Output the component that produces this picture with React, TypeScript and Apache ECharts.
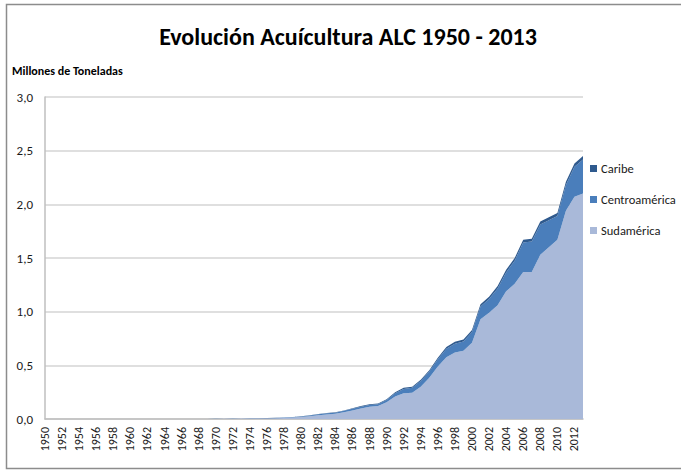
import React, { useEffect, useRef } from "react";
import * as echarts from "echarts";

const years: string[] = [];
for (let y = 1950; y <= 2013; y++) years.push(String(y));

const zeros20 = [0, 0, 0, 0, 0, 0, 0, 0, 0, 0, 0, 0, 0, 0, 0, 0, 0, 0, 0, 0];

// 1970 - 2013
const sudamerica = [...zeros20,
  0.001, 0.002, 0.003, 0.004, 0.004, 0.005, 0.006, 0.008, 0.010, 0.014,
  0.019, 0.026, 0.036, 0.043, 0.048, 0.063, 0.080, 0.098, 0.115, 0.120,
  0.155, 0.210, 0.240, 0.245, 0.300, 0.385, 0.490, 0.575, 0.620, 0.635,
  0.710, 0.930, 0.990, 1.060, 1.190, 1.260, 1.370, 1.370, 1.530, 1.600,
  1.670, 1.940, 2.070, 2.100];

const centroamerica = [...zeros20,
  0.001, 0.001, 0.001, 0.001, 0.002, 0.001, 0.002, 0.002, 0.003, 0.004,
  0.005, 0.007, 0.008, 0.010, 0.010, 0.013, 0.015, 0.016, 0.015, 0.018,
  0.022, 0.031, 0.040, 0.045, 0.054, 0.058, 0.066, 0.079, 0.082, 0.086,
  0.100, 0.119, 0.128, 0.157, 0.176, 0.215, 0.274, 0.283, 0.282, 0.252,
  0.221, 0.240, 0.279, 0.318];

const caribe = [...zeros20,
  0.000, 0.000, 0.000, 0.000, 0.000, 0.001, 0.001, 0.001, 0.001, 0.001,
  0.002, 0.002, 0.003, 0.003, 0.004, 0.004, 0.005, 0.006, 0.007, 0.007,
  0.008, 0.009, 0.010, 0.010, 0.011, 0.012, 0.014, 0.016, 0.018, 0.019,
  0.020, 0.021, 0.022, 0.023, 0.024, 0.025, 0.026, 0.027, 0.028, 0.028,
  0.029, 0.030, 0.031, 0.032];

const yTicks = ["0,0", "0,5", "1,0", "1,5", "2,0", "2,5", "3,0"];

const FONT = "Carlito, 'Liberation Sans Narrow', 'DejaVu Sans Condensed', 'Noto Sans', sans-serif";

export default function App() {
  const ref = useRef<HTMLDivElement>(null);
  useEffect(() => {
    document.body.style.margin = "0";
    const chart = echarts.init(ref.current!, null, { renderer: "svg" });
    const areaSeries = (name: string, data: number[], color: string) => ({
      name,
      type: "line",
      stack: "total",
      data,
      symbol: "none",
      showSymbol: false,
      lineStyle: { width: 0 },
      areaStyle: { color, opacity: 1 },
      itemStyle: { color },
    });
    chart.setOption({
      animation: false,
      backgroundColor: "#ffffff",
      textStyle: { fontFamily: FONT },
      title: {
        text: "Evolución Acuícultura ALC 1950 - 2013",
        left: 343,
        top: 19,
        textAlign: "center",
        textStyle: { fontFamily: FONT, fontSize: 24, fontWeight: "bold", color: "#000000" },
      },
      graphic: [
        {
          type: "rect",
          shape: { x: 6.5, y: 4.5, width: 700, height: 464 },
          style: { fill: "none", stroke: "#8c8c8c", lineWidth: 1.5 },
          silent: true,
        },
        {
          type: "text",
          left: 12,
          top: 65,
          style: { text: "Millones de Toneladas", fontFamily: FONT, fontSize: 12, fontWeight: "bold", fill: "#000000" },
        },
      ],
      legend: {
        orient: "vertical",
        left: 590,
        top: 162,
        padding: [0, 0, 0, 0],
        itemWidth: 7,
        itemHeight: 7,
        itemGap: 18,
        icon: "rect",
        data: ["Caribe", "Centroamérica", "Sudamérica"],
        textStyle: { fontFamily: FONT, fontSize: 12.5, color: "#1a1a1a", padding: [0, 0, 0, -1] },
      },
      grid: { left: 45, right: 98, top: 97, bottom: 53, containLabel: false },
      xAxis: {
        type: "category",
        data: years,
        boundaryGap: false,
        axisLine: { show: true, lineStyle: { color: "#bfbfbf", width: 1.5 } },
        axisTick: { show: false },
        axisLabel: {
          interval: 1,
          rotate: 90,
          fontFamily: FONT,
          fontSize: 12,
          color: "#1a1a1a",
          margin: 8,
        },
        splitLine: { show: false },
      },
      yAxis: {
        type: "value",
        min: 0,
        max: 3,
        interval: 0.5,
        axisLine: { show: true, lineStyle: { color: "#bfbfbf", width: 1.5 } },
        axisTick: { show: false },
        axisLabel: {
          fontFamily: FONT,
          fontSize: 13,
          color: "#1a1a1a",
          margin: 12,
          formatter: (v: number) => yTicks[Math.round(v / 0.5)] ?? "",
        },
        splitLine: { show: true, lineStyle: { color: "#d4d4d4", width: 1.5 } },
      },
      series: [
        areaSeries("Sudamérica", sudamerica, "#a9b9d9"),
        areaSeries("Centroamérica", centroamerica, "#4a7ebb"),
        areaSeries("Caribe", caribe, "#2f5a8e"),
      ],
    });
    return () => chart.dispose();
  }, []);
  return <div ref={ref} style={{ width: 681, height: 472 }} />;
}
